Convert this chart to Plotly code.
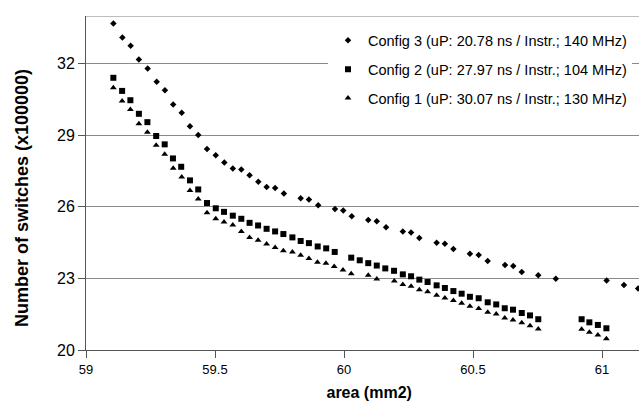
import plotly.graph_objects as go

# Config 3 (diamonds)
c3_x = [59.106, 59.141, 59.173, 59.205, 59.239, 59.274, 59.306, 59.338, 59.371, 59.403,
        59.435, 59.469, 59.503, 59.536, 59.569, 59.602, 59.634, 59.668, 59.700, 59.733,
        59.767, 59.832, 59.864, 59.900, 59.965, 59.997, 60.030, 60.094, 60.127, 60.163,
        60.228, 60.260, 60.292, 60.359, 60.391, 60.424, 60.488, 60.522, 60.557, 60.624,
        60.656, 60.689, 60.753, 60.821, 61.018, 61.085, 61.140]
c3_y = [33.69, 33.10, 32.75, 32.18, 31.80, 31.24, 30.89, 30.29, 29.94, 29.38,
        29.01, 28.43, 28.16, 27.86, 27.61, 27.57, 27.33, 27.05, 26.83, 26.79,
        26.56, 26.36, 26.31, 26.07, 25.91, 25.85, 25.61, 25.45, 25.40, 25.15,
        24.97, 24.93, 24.69, 24.50, 24.45, 24.23, 24.03, 23.98, 23.73, 23.56,
        23.52, 23.27, 23.13, 22.99, 22.91, 22.72, 22.58]

# Config 2 (squares)
c2_x = [59.106, 59.140, 59.172, 59.205, 59.238, 59.272, 59.305, 59.337, 59.369, 59.403,
        59.435, 59.469, 59.503, 59.535, 59.569, 59.602, 59.634, 59.667, 59.700, 59.733,
        59.765, 59.800, 59.832, 59.864, 59.898, 59.931, 59.964, 60.028, 60.061, 60.094,
        60.127, 60.160, 60.194, 60.228, 60.260, 60.292, 60.324, 60.359, 60.391, 60.424,
        60.456, 60.488, 60.522, 60.557, 60.590, 60.623, 60.655, 60.689, 60.721, 60.753,
        60.921, 60.951, 60.984, 61.017]
c2_y = [31.41, 30.86, 30.47, 29.90, 29.55, 28.97, 28.62, 28.03, 27.68, 27.11,
        26.73, 26.16, 25.94, 25.79, 25.63, 25.50, 25.33, 25.22, 25.08, 24.97,
        24.86, 24.72, 24.57, 24.48, 24.34, 24.26, 24.11, 23.87, 23.76, 23.64,
        23.54, 23.42, 23.32, 23.17, 23.09, 22.95, 22.85, 22.71, 22.60, 22.47,
        22.36, 22.23, 22.17, 22.00, 21.91, 21.75, 21.69, 21.55, 21.45, 21.29,
        21.29, 21.16, 21.05, 20.91]

# Config 1 (triangles)
c1_x = [59.106, 59.140, 59.172, 59.205, 59.238, 59.272, 59.305, 59.338, 59.371, 59.403,
        59.435, 59.469, 59.503, 59.535, 59.569, 59.602, 59.634, 59.667, 59.700, 59.733,
        59.765, 59.800, 59.832, 59.864, 59.897, 59.930, 59.962, 59.996, 60.028, 60.094,
        60.127, 60.195, 60.228, 60.260, 60.292, 60.324, 60.359, 60.391, 60.424, 60.456,
        60.488, 60.522, 60.557, 60.590, 60.623, 60.655, 60.689, 60.721, 60.753, 60.921,
        60.951, 60.984, 61.017]
c1_y = [30.99, 30.44, 30.08, 29.48, 29.13, 28.58, 28.20, 27.62, 27.25, 26.69,
        26.33, 25.75, 25.50, 25.37, 25.24, 24.97, 24.72, 24.60, 24.44, 24.30,
        24.16, 24.11, 23.97, 23.84, 23.68, 23.64, 23.50, 23.35, 23.20, 23.13,
        22.98, 22.89, 22.75, 22.67, 22.53, 22.44, 22.29, 22.18, 22.08, 21.96,
        21.83, 21.74, 21.58, 21.51, 21.34, 21.26, 21.14, 21.02, 20.88, 20.87,
        20.74, 20.63, 20.47]

names = ["Config 3 (uP: 20.78 ns / Instr.; 140 MHz)",
         "Config 2 (uP: 27.97 ns / Instr.; 104 MHz)",
         "Config 1 (uP: 30.07 ns / Instr.; 130 MHz)"]

y_ticks = [20, 23, 26, 29, 32]
x_ticks = [59, 59.5, 60, 60.5, 61]

FONT = "Arial, 'Liberation Sans', sans-serif"
NB = "&nbsp;"

fig = go.Figure()
series = [(c3_x, c3_y, "diamond", 5), (c2_x, c2_y, "square", 6), (c1_x, c1_y, "triangle-up", 6)]
for i, ((xs, ys, sym, sz), nm) in enumerate(zip(series, names)):
    fig.add_trace(go.Scatter(x=xs, y=ys, mode="markers", name=nm, legendgroup=f"g{i}",
                             marker=dict(symbol=sym, size=sz, color="black", line=dict(width=0))))

fig.add_shape(type="line", xref="paper", yref="y", x0=0, x1=1, y0=34, y1=34,
              line=dict(color="#a8a8a8", width=1.5))

fig.update_layout(
    width=639, height=407,
    margin=dict(l=86, r=0, t=16, b=57),
    paper_bgcolor="white", plot_bgcolor="white",
    font=dict(family=FONT, color="black"),
    showlegend=True,
    legend=dict(x=(328 - 86) / 553, xanchor="left", y=0.975, yanchor="top",
                bgcolor="white", borderwidth=0, font=dict(size=14.5, family=FONT),
                tracegroupgap=7, traceorder="grouped"),
    xaxis=dict(range=[59, 61.1434], tickvals=x_ticks, ticktext=[str(v) for v in x_ticks],
               showgrid=False, zeroline=False, showline=True, linecolor="#555555", linewidth=1,
               ticks="outside", ticklen=7, tickcolor="#555555", automargin=False,
               tickfont=dict(size=13, family=FONT),
               title=dict(text=NB * 3 + "<b>area (mm2)</b>", font=dict(size=16, family=FONT), standoff=11)),
    yaxis=dict(range=[20, 34], tickvals=y_ticks, showgrid=True, gridcolor="#8a8a8a", gridwidth=1,
               zeroline=False, showline=True, linecolor="#555555", linewidth=1,
               ticks="outside", ticklen=7, tickcolor="#555555", automargin=False,
               tickfont=dict(size=16, family=FONT),
               title=dict(text="<b>Number of switches (x100000)</b>" + NB * 6,
                          font=dict(size=18, family=FONT), standoff=23)),
)

fig.write_html("out.html", config={"displayModeBar": False},
               post_script="document.body.style.margin='0';")
